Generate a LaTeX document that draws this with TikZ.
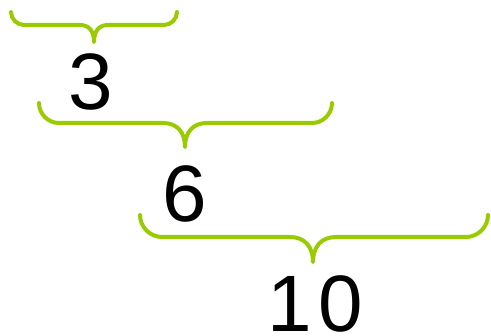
\documentclass[tikz,border=0pt]{standalone}
\usepackage{fontspec}
\setmainfont{Liberation Sans}
\definecolor{bracegreen}{RGB}{153,204,0}
\begin{document}
\begin{tikzpicture}[x=1pt,y=-1pt,
  brace/.style={draw=bracegreen,line width=4pt,line cap=round,line join=round},
  num/.style={inner sep=0pt,anchor=base,font=\fontsize{80}{80}\selectfont}]
\useasboundingbox (0,0) rectangle (491,336);
% braces
\path[brace] (11,12) .. controls (11,19) and (17,25) .. (24,25) -- (80,25)
  .. controls (89,25) and (94,31) .. (94,42)
  .. controls (94,31) and (99,25) .. (108,25) -- (164,25)
  .. controls (171,25) and (177,19) .. (177,12);
\path[brace] (39,103) .. controls (39,114) and (48,123) .. (59,123) -- (163,123)
  .. controls (177,123) and (185,132) .. (185,147)
  .. controls (185,132) and (193,123) .. (207,123) -- (312,123)
  .. controls (323,123) and (332,114) .. (332,103);
\path[brace] (140,215) .. controls (140,227) and (150,237) .. (162,237) -- (290,237)
  .. controls (305,237) and (313,247) .. (313,262)
  .. controls (313,247) and (321,237) .. (336,237) -- (466,237)
  .. controls (478,237) and (488,227) .. (488,215);
% numbers
\node[num] (n3) at (91,110) {3};
\node[num] (n6) at (185,222) {6};
\node[num] (n10) at (315,332) {1\kern7pt0};
\end{tikzpicture}
\end{document}
